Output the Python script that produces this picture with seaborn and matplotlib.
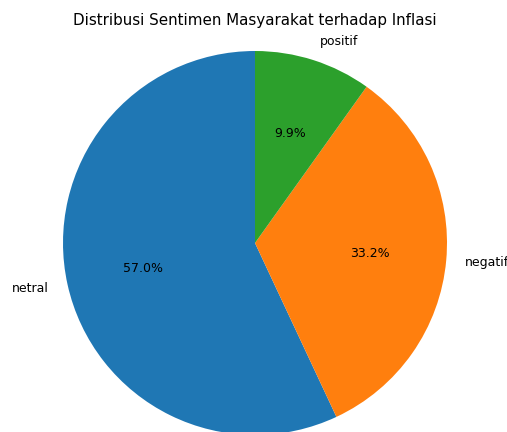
import matplotlib
matplotlib.use("Agg")
import matplotlib.pyplot as plt
import seaborn as sns

labels = ["netral", "negatif", "positif"]
persen = [56.97, 33.16, 9.87]

warna = sns.color_palette("tab10", 3)

fig = plt.figure(figsize=(5.07, 4.32), dpi=100)
ax = fig.add_axes([0, 0, 1, 1])

ax.pie(persen, labels=labels, colors=warna, autopct="%1.1f%%", startangle=90,
       textprops={"fontsize": 9})

# pusat pie di (255, 243) px, jari-jari 192 px
r = 192.0
ax.set_xlim(-255 / r, (507 - 255) / r)
ax.set_ylim(-(432 - 243) / r, 243 / r)
ax.set_aspect("auto")
ax.axis("off")

fig.text(255 / 507, 1 - 20 / 432, "Distribusi Sentimen Masyarakat terhadap Inflasi",
         ha="center", va="center", fontsize=10.9)

fig.savefig("out.png", dpi=100)
